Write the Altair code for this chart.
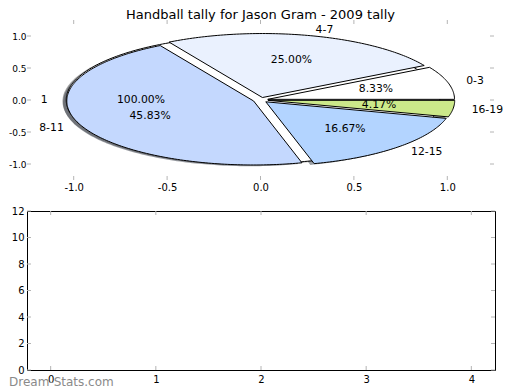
import numpy as np
import pandas as pd
import altair as alt

FONT = "DejaVu Sans"

# ---- data ----
slice_labels = ["0-3", "4-7", "8-11", "12-15", "16-19"]
slice_counts = [2, 6, 11, 4, 1]
slice_colors = ["#ffffff", "#eaf1fe", "#c4d8fe", "#b3d4ff", "#cce98a"]
slice_explode = [0.04, 0.04, 0.04, 0.04, 0.04]

base_labels = ["1"]
base_counts = [1]
base_colors = ["#ffffff"]
base_explode = [0.04]

pie_ticks = [-1.0, -0.5, 0.0, 0.5, 1.0]
bar_xticks = [0, 1, 2, 3, 4]
bar_yticks = [0, 2, 4, 6, 8, 10, 12]

title_text = "Handball tally for Jason Gram - 2009 tally"
watermark_text = "Dream-Stats.com"

# ---- styling ----
LABEL_DIST = 1.1
PCT_DIST = 0.6
SHADOW_DX, SHADOW_DY = -0.02, -0.02
PIE_W, PIE_H = 467, 160
BAR_W, BAR_H = 468, 159
TICK_LEN = 4
TICK_COLOR = "#b4b4b4"


def build_pie(names, values, explode):
    total = float(sum(values))
    polys, labels, pcts = [], [], []
    start = 0.0
    for name, val, ex in zip(names, values, explode):
        frac = val / total
        t1, t2 = 360.0 * start, 360.0 * (start + frac)
        start += frac
        mid = np.deg2rad(0.5 * (t1 + t2))
        cx, cy = ex * np.cos(mid), ex * np.sin(mid)
        n = max(int(np.ceil(t2 - t1)) + 1, 3)
        ang = np.deg2rad(np.linspace(t1, t2, n))
        xs = list(cx + np.cos(ang))
        ys = list(cy + np.sin(ang))
        if frac < 0.9999:
            xs = [cx] + xs + [cx]
            ys = [cy] + ys + [cy]
        polys.append(pd.DataFrame({"i": range(len(xs)), "x": xs, "y": ys}))
        lx, ly = cx + LABEL_DIST * np.cos(mid), cy + LABEL_DIST * np.sin(mid)
        labels.append({"text": name, "x": lx, "y": ly,
                       "side": "left" if lx > 0 else "right"})
        px, py = cx + PCT_DIST * np.cos(mid), cy + PCT_DIST * np.sin(mid)
        pcts.append({"text": f"{100 * frac:.2f}%", "x": px, "y": py})
    return polys, pd.DataFrame(labels), pd.DataFrame(pcts)


def shade(hexcol):
    r, g, b = (int(hexcol[k:k + 2], 16) for k in (1, 3, 5))
    return "#%02x%02x%02x" % (int(r * 0.3), int(g * 0.3), int(b * 0.3))


main_polys, main_labels, main_pcts = build_pie(slice_labels, slice_counts, slice_explode)
base_polys, base_lbls, base_pcts = build_pie(base_labels, base_counts, base_explode)
all_labels = pd.concat([base_lbls, main_labels], ignore_index=True)
all_pcts = pd.concat([base_pcts, main_pcts], ignore_index=True)

hyphen_expr = "(datum.value < 0 ? '-' : '') + format(abs(datum.value), '.1f')"
pie_scale = alt.Scale(domain=[-1.25, 1.25], nice=False, zero=False)
x_axis = alt.Axis(values=pie_ticks, labelExpr=hyphen_expr, labelPadding=2, labelFontSize=10)
y_axis = alt.Axis(values=pie_ticks, labelExpr=hyphen_expr, labelPadding=1, labelFontSize=9)


def px(field):
    return alt.X(f"{field}:Q", scale=pie_scale, axis=x_axis, title=None)


def py(field):
    return alt.Y(f"{field}:Q", scale=pie_scale, axis=y_axis, title=None)


def poly(df, **mk):
    return alt.Chart(df).mark_line(interpolate="linear", **mk).encode(
        x=px("x"), y=py("y"), order=alt.Order("i:Q"))


layers = []
# shadows
for df, col in zip(base_polys + main_polys, base_colors + slice_colors):
    sdf = df.assign(x=df.x + SHADOW_DX, y=df.y + SHADOW_DY)
    layers.append(poly(sdf, fill=shade(col), fillOpacity=0.5, stroke="transparent"))
# base (100%) pie
for df, col in zip(base_polys, base_colors):
    layers.append(poly(df, fill=col, stroke="black", strokeWidth=1))
# main wedges
for df, col in zip(main_polys, slice_colors):
    layers.append(poly(df, fill=col, stroke="black", strokeWidth=1))

# labels
for side in ("left", "right"):
    d = all_labels[all_labels.side == side]
    layers.append(alt.Chart(d).mark_text(align=side, baseline="middle", fontSize=10.8,
                                         font=FONT, color="black")
                  .encode(x=px("x"), y=py("y"), text="text:N"))
layers.append(alt.Chart(all_pcts).mark_text(align="center", baseline="middle", fontSize=10.8,
                                            font=FONT, color="black")
              .encode(x=px("x"), y=py("y"), text="text:N"))

# inward tick marks for pie axes
tdf = pd.DataFrame({"v": pie_ticks})
layers += [
    alt.Chart(tdf).mark_rule(color=TICK_COLOR).encode(y=py("v"), x=alt.value(0), x2=alt.value(TICK_LEN)),
    alt.Chart(tdf).mark_rule(color=TICK_COLOR).encode(y=py("v"), x=alt.value(PIE_W - TICK_LEN), x2=alt.value(PIE_W)),
    alt.Chart(tdf).mark_rule(color=TICK_COLOR).encode(x=px("v"), y=alt.value(0), y2=alt.value(TICK_LEN)),
    alt.Chart(tdf).mark_rule(color=TICK_COLOR).encode(x=px("v"), y=alt.value(PIE_H - TICK_LEN), y2=alt.value(PIE_H)),
]
# title
layers.append(alt.Chart(pd.DataFrame({"t": [title_text]})).mark_text(
    align="center", baseline="alphabetic", fontSize=13, font=FONT, color="black")
    .encode(text="t:N", x=alt.value(PIE_W / 2), y=alt.value(-1.5)))

top = alt.layer(*layers).properties(width=PIE_W, height=PIE_H)

# ---- bottom empty axes ----
bx_scale = alt.Scale(domain=[-0.225, 4.225], nice=False, zero=False)
by_scale = alt.Scale(domain=[0, 12], nice=False, zero=False)
bx_axis = alt.Axis(values=bar_xticks, format="d", labelPadding=4, labelFontSize=10)
by_axis = alt.Axis(values=bar_yticks, format="d", labelPadding=3, labelFontSize=10)
bx = alt.X("v:Q", scale=bx_scale, axis=bx_axis, title=None)
by = alt.Y("v:Q", scale=by_scale, axis=by_axis, title=None)
xdf = pd.DataFrame({"v": bar_xticks})
ydf = pd.DataFrame({"v": bar_yticks})
bottom = alt.layer(
    alt.Chart(ydf).mark_rule(color=TICK_COLOR).encode(y=by, x=alt.value(0), x2=alt.value(TICK_LEN)),
    alt.Chart(ydf).mark_rule(color=TICK_COLOR).encode(y=by, x=alt.value(BAR_W - TICK_LEN), x2=alt.value(BAR_W)),
    alt.Chart(xdf).mark_rule(color=TICK_COLOR).encode(x=bx, y=alt.value(0), y2=alt.value(TICK_LEN)),
    alt.Chart(xdf).mark_rule(color=TICK_COLOR).encode(x=bx, y=alt.value(BAR_H - TICK_LEN), y2=alt.value(BAR_H)),
    alt.Chart(pd.DataFrame({"t": [watermark_text]})).mark_text(
        align="left", baseline="alphabetic", fontSize=12, font=FONT, color="#8a8a8a")
    .encode(text="t:N", x=alt.value(-18), y=alt.value(BAR_H + 15.5)),
).properties(width=BAR_W, height=BAR_H,
             view=alt.ViewBackground(stroke="black", strokeWidth=1))

chart = (
    alt.vconcat(top, bottom, spacing=13)
    .properties(padding=0)
    .configure(font=FONT)
    .configure_view(strokeWidth=0)
    .configure_axis(grid=False, ticks=False, tickSize=0, domain=False,
                    labelFont=FONT, labelColor="black")
)

chart.save("out.html", embed_options={"renderer": "svg", "actions": False})
